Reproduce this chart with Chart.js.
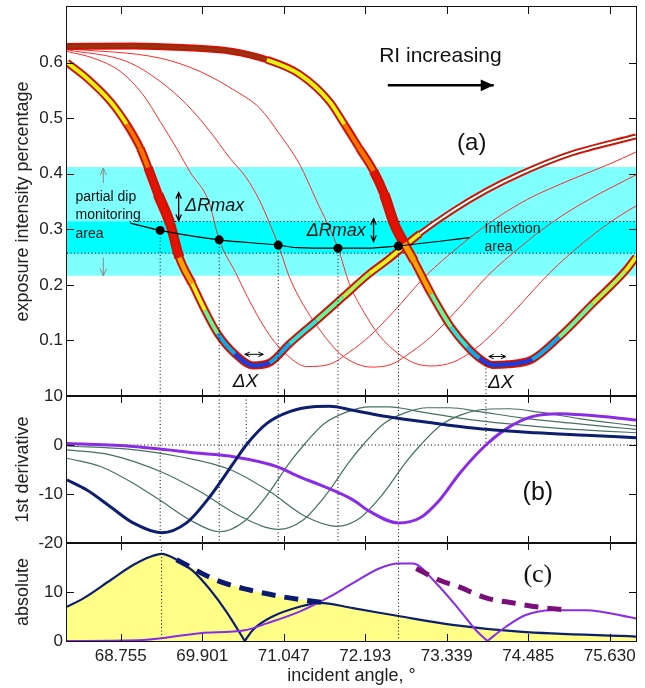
<!DOCTYPE html>
<html>
<head>
<meta charset="utf-8">
<script src="https://cdn.jsdelivr.net/npm/chart.js@4.4.1/dist/chart.umd.min.js"></script>
<style>
  body { margin: 0; background: #fff; }
  #wrap { position: relative; width: 645px; height: 688px; }
  canvas { position: absolute; left: 0; top: 0; }
</style>
</head>
<body>
<div id="wrap">
  <canvas id="panelA" width="645" height="688"></canvas>
  <canvas id="panelB" width="645" height="688"></canvas>
  <canvas id="panelC" width="645" height="688"></canvas>
</div>
<script>
// shared x axis (incident angle)
const xTicks = [68.755, 69.901, 71.047, 72.193, 73.339, 74.485, 75.630];
const xTickLabels = ["68.755", "69.901", "71.047", "72.193", "73.339", "74.485", "75.630"];
const yTicksA = [0.1, 0.2, 0.3, 0.4, 0.5, 0.6];
const yTicksB = [-20, -10, 0, 10];
const yTicksC = [0, 10];

// (a) cyan bands: [low, high]
const bandWide = [0.2165, 0.412];
const bandNarrow = [0.257, 0.314];

// (a) reflectivity dips, [angle, value]
const dipFirst = [[68.00,0.600],[68.28,0.572],[68.61,0.530],[68.84,0.489],[69.03,0.446],[69.14,0.411],[69.28,0.363],[69.45,0.310],[69.58,0.249],[69.76,0.202],[69.94,0.154],[70.12,0.112],[70.36,0.076],[70.62,0.055],[70.85,0.060],[71.13,0.094],[71.51,0.136],[71.88,0.178],[72.25,0.220],[72.49,0.243],[72.96,0.292],[73.42,0.333],[73.89,0.369],[74.36,0.399],[75.06,0.435],[76.00,0.467]];
const dipLast = [[68.00,0.629],[68.93,0.630],[69.63,0.627],[70.33,0.620],[70.81,0.605],[71.27,0.579],[71.69,0.530],[71.90,0.489],[72.11,0.446],[72.31,0.405],[72.46,0.363],[72.60,0.310],[72.74,0.275],[72.88,0.243],[73.12,0.184],[73.40,0.124],[73.63,0.088],[73.80,0.068],[73.98,0.056],[74.20,0.057],[74.54,0.066],[74.92,0.106],[75.39,0.166],[75.85,0.225],[76.00,0.250]];
const dipMid1 = [[68.00,0.620],[68.37,0.608],[68.75,0.584],[69.07,0.542],[69.31,0.494],[69.54,0.446],[69.73,0.403],[69.99,0.351],[70.14,0.281],[70.37,0.222],[70.60,0.163],[70.85,0.109],[71.10,0.073],[71.37,0.053],[71.69,0.057],[71.97,0.079],[72.25,0.107],[72.58,0.150],[73.05,0.217],[73.52,0.270],[73.98,0.315],[74.46,0.353],[75.10,0.390],[75.62,0.417],[76.00,0.439]];
const dipMid2 = [[68.00,0.623],[68.84,0.602],[69.31,0.566],[69.68,0.525],[70.01,0.476],[70.29,0.428],[70.52,0.393],[70.71,0.351],[70.97,0.272],[71.13,0.213],[71.37,0.154],[71.59,0.113],[71.83,0.077],[72.07,0.058],[72.28,0.052],[72.56,0.057],[72.84,0.079],[73.12,0.107],[73.45,0.150],[73.92,0.217],[74.39,0.270],[74.85,0.315],[75.33,0.353],[76.00,0.398]];
const dipMid3 = [[68.00,0.625],[69.31,0.608],[69.87,0.584],[70.38,0.548],[70.71,0.518],[70.99,0.471],[71.27,0.417],[71.51,0.351],[71.81,0.266],[71.97,0.202],[72.16,0.154],[72.39,0.109],[72.65,0.077],[72.89,0.059],[73.12,0.054],[73.43,0.061],[73.71,0.082],[73.99,0.113],[74.32,0.157],[74.79,0.222],[75.26,0.276],[75.72,0.320],[76.00,0.342]];
const inflexionLine = [[68.89,0.311],[69.31,0.298],[70.14,0.281],[70.97,0.2715],[71.23,0.267],[71.81,0.266],[72.21,0.266],[72.66,0.270],[73.66,0.285]];
const inflexionDots = [[69.31,0.298],[70.14,0.281],[70.97,0.2715],[71.81,0.266],[72.66,0.270]];
const dipMinX = [73.89];

// (b) first derivative
const derFirst = [[68.00,-7.1],[68.28,-9.2],[68.61,-12.6],[68.93,-15.9],[69.33,-17.9],[69.68,-15.9],[70.01,-10.5],[70.34,-3.7],[70.52,0],[70.81,4.4],[71.13,6.8],[71.46,7.8],[71.69,7.9],[72.02,7.1],[72.49,5.8],[73.19,4.4],[73.89,3.2],[74.59,2.5],[75.29,2.0],[76.00,1.5]];
const derLast = [[68.00,0.3],[68.93,-0.3],[69.87,-1.7],[70.34,-2.4],[70.95,-4.4],[71.27,-6.5],[71.55,-8.1],[72.02,-11.2],[72.25,-13.5],[72.66,-15.9],[72.96,-14.9],[73.24,-11.2],[73.52,-5.8],[73.89,0],[74.22,3.7],[74.54,5.8],[74.92,6.4],[75.29,6.1],[76.00,5.1]];
const derMid1 = [[68.00,-2.7],[68.47,-4.4],[68.93,-7.8],[69.33,-11.5],[69.73,-15.3],[70.14,-17.7],[70.49,-15.6],[70.81,-10.3],[71.13,-3.6],[71.33,0],[71.61,4.3],[71.93,6.7],[72.25,7.8],[72.53,7.8],[72.96,6.8],[73.52,5.5],[74.22,4.3],[74.92,3.4],[75.62,2.8],[76.00,2.5]];
const derMid2 = [[68.00,-1.0],[68.61,-2.0],[69.33,-5.5],[69.87,-9.5],[70.43,-14.5],[70.97,-17.2],[71.31,-15.4],[71.64,-10.2],[71.96,-3.6],[72.16,0],[72.44,4.2],[72.76,6.6],[73.07,7.6],[73.38,7.6],[73.80,6.8],[74.36,5.6],[75.06,4.5],[75.62,3.7],[76.00,3.2]];
const derMid3 = [[68.00,-0.2],[68.89,-0.9],[69.59,-2.4],[70.29,-5.0],[70.85,-9.5],[71.34,-14.5],[71.79,-16.6],[72.11,-15.0],[72.44,-10.0],[72.76,-3.6],[72.97,0],[73.25,4.0],[73.57,6.3],[73.89,7.3],[74.22,7.4],[74.64,6.7],[75.20,5.4],[76.00,3.9]];
const zeroCrossX = [70.52, 73.89];

// (c) absolute value
const absFirst = [[68.00,7.0],[68.23,8.7],[68.61,12.4],[68.93,15.5],[69.17,17.2],[69.33,17.8],[69.54,16.6],[69.77,14.3],[70.01,10.5],[70.24,6.0],[70.50,0],[70.61,2.2],[70.89,5.0],[71.27,7.0],[71.55,7.8],[72.02,6.7],[72.66,5.1],[73.42,3.3],[74.36,1.9],[76.00,0.9]];
const absLast = [[68.00,0],[69.07,0.2],[69.87,1.6],[70.50,2.2],[70.81,3.6],[71.27,6.0],[71.69,9.0],[72.02,11.8],[72.39,14.8],[72.66,15.8],[72.86,15.8],[73.19,11.8],[73.52,6.3],[73.75,2.2],[73.91,0],[74.17,2.9],[74.45,5.3],[74.82,6.3],[75.29,6.3],[76.00,4.6]];
const envelope = [[68.00,7.0],[68.23,8.7],[68.61,12.4],[68.93,15.5],[69.17,17.2],[69.33,17.8],[69.59,16.2],[70.10,12.4],[70.57,10.4],[71.04,9.0],[71.51,8.0],[71.69,7.6],[72.02,6.7],[72.66,5.1],[73.42,3.3],[74.36,1.9],[76.00,0.9]];
const envFirstDash = [[69.54,16.6],[70.10,12.4],[70.57,10.4],[71.04,9.0],[71.51,8.0],[71.69,7.7]];
const envLastDash = [[72.91,14.8],[73.24,12.4],[73.52,11.0],[73.89,8.8],[74.26,7.8],[74.64,6.9],[75.06,6.3]];
const peakX = [69.33, 72.66];

Chart.defaults.font.family = "'Liberation Sans', Arial, sans-serif";
Chart.defaults.font.size = 17;
Chart.defaults.color = "#222";

const NAVY = "#0c1f6e";
const VIOLET = "#8a2be6";
const GREEN = "#46705f";

const pts = (arr) => arr.map((p) => ({ x: p[0], y: p[1] }));

function curve(arr, color, width, extra) {
  return Object.assign({
    data: pts(arr),
    borderColor: color,
    borderWidth: width,
    pointRadius: 0,
    fill: false,
    cubicInterpolationMode: "monotone",
  }, extra || {});
}

function dotted(arr, order) {
  return { data: pts(arr), borderColor: "#000", borderWidth: 1, borderDash: [1, 2.5], pointRadius: 0, fill: false, tension: 0, order: order || 10 };
}

function band(lim, color, order) {
  return { data: pts([[68, lim[1]], [76, lim[1]]]), borderWidth: 0, pointRadius: 0, backgroundColor: color, fill: { value: lim[0] }, order: order };
}

// split |f| curves at their inner zero so the V stays sharp
function splitAtZero(arr) {
  let parts = [];
  let cur = [];
  arr.forEach((p, i) => {
    cur.push(p);
    if (p[1] === 0 && i > 0 && i < arr.length - 1) {
      parts.push(cur);
      cur = [p];
    }
  });
  parts.push(cur);
  return parts;
}

function segInfo(ctx) {
  let y0 = ctx.p0.parsed.y, y1 = ctx.p1.parsed.y;
  return { y: (y0 + y1) / 2, falling: y1 < y0 };
}

// colour of the thick dip band, roughly like the original colormap
function dipCore(ctx) {
  let { y, falling } = segInfo(ctx);
  if (y > 0.6) return "#a03010";
  if (y < 0.075) return "#1c3ae6";
  if (y < 0.1) return "#10a8f0";
  if (y < 0.13) return "#30e0d8";
  if (y < 0.17) return "#70f098";
  if (falling) {
    if (y < 0.21) return "#f0f020";
    if (y < 0.26) return "#ffa000";
    if (y < 0.41) return "#e81000";
    if (y < 0.47) return "#ff7000";
    return "#e8f010";
  }
  if (y < 0.22) return "#b0f050";
  if (y < 0.29) return "#e8f020";
  return "#ffffff";
}

function dipWidth(ctx) {
  let { y, falling } = segInfo(ctx);
  if (y > 0.6) return 7;
  if (!falling && y > 0.29) return 6;
  if (falling) {
    let k = Math.max(0, 1 - Math.abs(y - 0.32) / 0.13);
    return 8 + 3 * k;
  }
  return 8;
}

function thickDip(arr, order) {
  return [
    curve(arr, "#ff0000", 8, { order: order + 2, segment: { borderWidth: (c) => dipWidth(c) } }),
    curve(arr, "#8e2c0c", 6, { order: order + 1, segment: { borderWidth: (c) => dipWidth(c) - 2 } }),
    curve(arr, "#ff0000", 4, { order: order, segment: { borderColor: dipCore, borderWidth: (c) => Math.max(dipWidth(c) - 4, 1) } }),
  ];
}

function drawArrow(ctx, x1, y1, x2, y2, o) {
  ctx.strokeStyle = o.color || "#000";
  ctx.fillStyle = o.color || "#000";
  ctx.lineWidth = o.width || 1;
  ctx.beginPath();
  ctx.moveTo(x1, y1);
  ctx.lineTo(x2, y2);
  ctx.stroke();
  const head = (xa, ya, xb, yb) => {
    let ang = Math.atan2(yb - ya, xb - xa);
    let L = o.head || 6, W = L * 0.45;
    ctx.beginPath();
    ctx.moveTo(xb - L * Math.cos(ang) + W * Math.sin(ang), yb - L * Math.sin(ang) - W * Math.cos(ang));
    ctx.lineTo(xb, yb);
    ctx.lineTo(xb - L * Math.cos(ang) - W * Math.sin(ang), yb - L * Math.sin(ang) + W * Math.cos(ang));
    if (o.open) {
      ctx.stroke();
    } else {
      ctx.closePath();
      ctx.fill();
    }
  };
  head(x1, y1, x2, y2);
  if (o.both) head(x2, y2, x1, y1);
}

const annotate = {
  id: "annotate",
  afterDatasetsDraw(chart, args, opts) {
    let ctx = chart.ctx;
    let sx = chart.scales.x, sy = chart.scales.y;
    ctx.save();
    (opts.items || []).forEach((it) => {
      if (it.text !== undefined) {
        ctx.font = it.font;
        ctx.fillStyle = it.color || "#111";
        ctx.textAlign = it.align || "left";
        ctx.textBaseline = "middle";
        ctx.fillText(it.text, sx.getPixelForValue(it.x), sy.getPixelForValue(it.y));
      } else {
        drawArrow(ctx, sx.getPixelForValue(it.x1), sy.getPixelForValue(it.y1), sx.getPixelForValue(it.x2), sy.getPixelForValue(it.y2), it);
      }
    });
    ctx.restore();
  },
};

// matlab style box with inward ticks
const frame = {
  id: "frame",
  afterDraw(chart, args, opts) {
    let ctx = chart.ctx;
    let a = chart.chartArea;
    let sx = chart.scales.x, sy = chart.scales.y;
    let len = 7;
    ctx.save();
    ctx.strokeStyle = "#111";
    ctx.lineWidth = 1;
    ctx.strokeRect(a.left - 0.5, a.top - 0.5, a.right - a.left + 1, a.bottom - a.top + 1);
    ctx.beginPath();
    xTicks.forEach((v) => {
      let x = Math.round(sx.getPixelForValue(v)) + 0.5;
      ctx.moveTo(x, a.top); ctx.lineTo(x, a.top + len);
      ctx.moveTo(x, a.bottom); ctx.lineTo(x, a.bottom - len);
    });
    (opts.yTicks || []).forEach((v) => {
      let y = Math.round(sy.getPixelForValue(v)) + 0.5;
      if (y <= a.top + 1 || y >= a.bottom - 1) return;
      ctx.moveTo(a.left, y); ctx.lineTo(a.left + len, y);
      ctx.moveTo(a.right, y); ctx.lineTo(a.right - len, y);
    });
    ctx.stroke();
    ctx.restore();
  },
};

function makePanel(id, datasets, cfg) {
  let xScale = {
    type: "linear",
    min: 68,
    max: 76,
    display: cfg.showX,
    afterBuildTicks: (s) => { s.ticks = xTicks.map((v) => ({ value: v })); },
    ticks: { callback: (v, i) => xTickLabels[i], padding: 5, maxRotation: 0, autoSkip: false },
    grid: { display: false, drawTicks: false },
    border: { display: false },
    title: { display: cfg.showX, text: "incident angle, \u00b0", font: { size: 18 }, padding: { top: 0, bottom: 1 } },
  };
  if (cfg.showX) {
    xScale.afterFit = (s) => { s.height = 47; s.paddingLeft = 0; s.paddingRight = 0; };
  }
  return new Chart(document.getElementById(id), {
    type: "line",
    data: { datasets: datasets },
    options: {
      responsive: false,
      animation: false,
      events: [],
      layout: { padding: { left: 0, right: 9, top: cfg.top, bottom: cfg.bottom } },
      plugins: {
        legend: { display: false },
        tooltip: { enabled: false },
        annotate: { items: cfg.items },
        frame: { yTicks: cfg.yTicks },
      },
      scales: {
        x: xScale,
        y: {
          min: cfg.yMin,
          max: cfg.yMax,
          afterBuildTicks: (s) => { s.ticks = cfg.yTicks.map((v) => ({ value: v })); },
          afterFit: (s) => { s.width = 67; s.paddingTop = 0; s.paddingBottom = 0; },
          ticks: { padding: 4, callback: (v) => String(v) },
          grid: { display: false, drawTicks: false },
          border: { display: false },
          title: { display: true, text: cfg.yTitle, font: { size: 18 }, padding: { top: 12, bottom: 0 } },
        },
      },
    },
    plugins: [annotate, frame],
  });
}

// ---------- (a) ----------
let dsA = [
  band(bandWide, "#80ffff", 100),
  band(bandNarrow, "#00ffff", 99),
  dotted([[68.88, bandNarrow[1]], [76, bandNarrow[1]]], 90),
  dotted([[68, bandNarrow[0]], [76, bandNarrow[0]]], 90),
];
[dipMid1, dipMid2, dipMid3].forEach((d) => dsA.push(curve(d, "#ff2a2a", 1, { order: 50 })));
dsA = dsA.concat(thickDip(dipFirst, 30), thickDip(dipLast, 20));
inflexionDots.forEach((p) => dsA.push(dotted([[p[0], p[1]], [p[0], 0]], 12)));
dipMinX.forEach((x) => dsA.push(dotted([[x, 0.056], [x, 0]], 12)));
dsA.push(curve(inflexionLine, "#000", 1.2, { order: 5 }));
dsA.push({ data: pts(inflexionDots), showLine: false, pointRadius: 4.5, pointBackgroundColor: "#000", pointBorderColor: "#000", pointBorderWidth: 0, order: 1 });

const sans = "'Liberation Sans', Arial, sans-serif";
makePanel("panelA", dsA, {
  top: 7, bottom: 292, showX: false, yMin: 0, yMax: 0.7, yTicks: yTicksA,
  yTitle: "exposure intensity percentage",
  items: [
    { text: "RI increasing", x: 73.25, y: 0.611, font: "21px " + sans, align: "center" },
    { x1: 72.51, y1: 0.559, x2: 74.0, y2: 0.559, width: 2.5, head: 13 },
    { text: "(a)", x: 73.69, y: 0.455, font: "24px " + sans, align: "center" },
    { text: "partial dip", x: 68.12, y: 0.357, font: "14px " + sans },
    { text: "monitoring", x: 68.12, y: 0.326, font: "14px " + sans },
    { text: "area", x: 68.12, y: 0.292, font: "14px " + sans },
    { x1: 68.51, y1: 0.383, x2: 68.51, y2: 0.41, color: "#888", head: 7, open: true },
    { x1: 68.51, y1: 0.249, x2: 68.51, y2: 0.2165, color: "#888", head: 7, open: true },
    { text: "\u0394Rmax", x: 69.66, y: 0.342, font: "italic 18px " + sans },
    { x1: 69.57, y1: 0.366, x2: 69.57, y2: 0.316, both: true, open: true, head: 6, width: 1.3 },
    { text: "\u0394Rmax", x: 71.37, y: 0.297, font: "italic 18px " + sans },
    { x1: 72.31, y1: 0.319, x2: 72.31, y2: 0.278, both: true, open: true, head: 6, width: 1.3 },
    { text: "Inflextion", x: 73.87, y: 0.300, font: "14px " + sans },
    { text: "area", x: 73.87, y: 0.267, font: "14px " + sans },
    { x1: 70.50, y1: 0.075, x2: 70.76, y2: 0.075, both: true, open: true, head: 5 },
    { x1: 73.93, y1: 0.071, x2: 74.17, y2: 0.071, both: true, open: true, head: 5 },
    { text: "\u0394X", x: 70.33, y: 0.025, font: "italic 19px " + sans },
    { text: "\u0394X", x: 73.92, y: 0.023, font: "italic 19px " + sans },
  ],
});

// ---------- (b) ----------
let dsB = [dotted([[68, 0], [76, 0]], 90)];
inflexionDots.forEach((p) => dsB.push(dotted([[p[0], 10], [p[0], -20]], 90)));
zeroCrossX.forEach((x) => dsB.push(dotted([[x, 10], [x, 0]], 90)));
[derMid1, derMid2, derMid3].forEach((d) => dsB.push(curve(d, GREEN, 1.2, { order: 40 })));
dsB.push(curve(derLast, VIOLET, 3, { order: 20 }));
dsB.push(curve(derFirst, NAVY, 3, { order: 10 }));

makePanel("panelB", dsB, {
  top: 396, bottom: 145, showX: false, yMin: -20, yMax: 10, yTicks: yTicksB,
  yTitle: "1st derivative",
  items: [{ text: "(b)", x: 74.62, y: -9.8, font: "25px " + sans, align: "center" }],
});

// ---------- (c) ----------
let dsC = [
  curve(envelope, "rgba(0,0,0,0)", 0, { backgroundColor: "#ffff88", fill: "origin", order: 100 }),
];
peakX.forEach((x) => dsC.push(dotted([[x, 20], [x, 0]], 90)));
splitAtZero(absFirst).forEach((part) => dsC.push(curve(part, NAVY, 2.2, { order: 30 })));
splitAtZero(absLast).forEach((part) => dsC.push(curve(part, VIOLET, 2, { order: 25 })));
dsC.push(curve(envFirstDash, "#0a1a70", 5, { borderDash: [14, 9], order: 20 }));
dsC.push(curve(envLastDash, "#7a0f7a", 5, { borderDash: [14, 9], order: 20 }));

makePanel("panelC", dsC, {
  top: 543, bottom: 0, showX: true, yMin: 0, yMax: 20, yTicks: yTicksC,
  yTitle: "absolute",
  items: [{ text: "(c)", x: 74.62, y: 13.5, font: "26px 'Liberation Serif', 'Times New Roman', serif", align: "center" }],
});
</script>
</body>
</html>
